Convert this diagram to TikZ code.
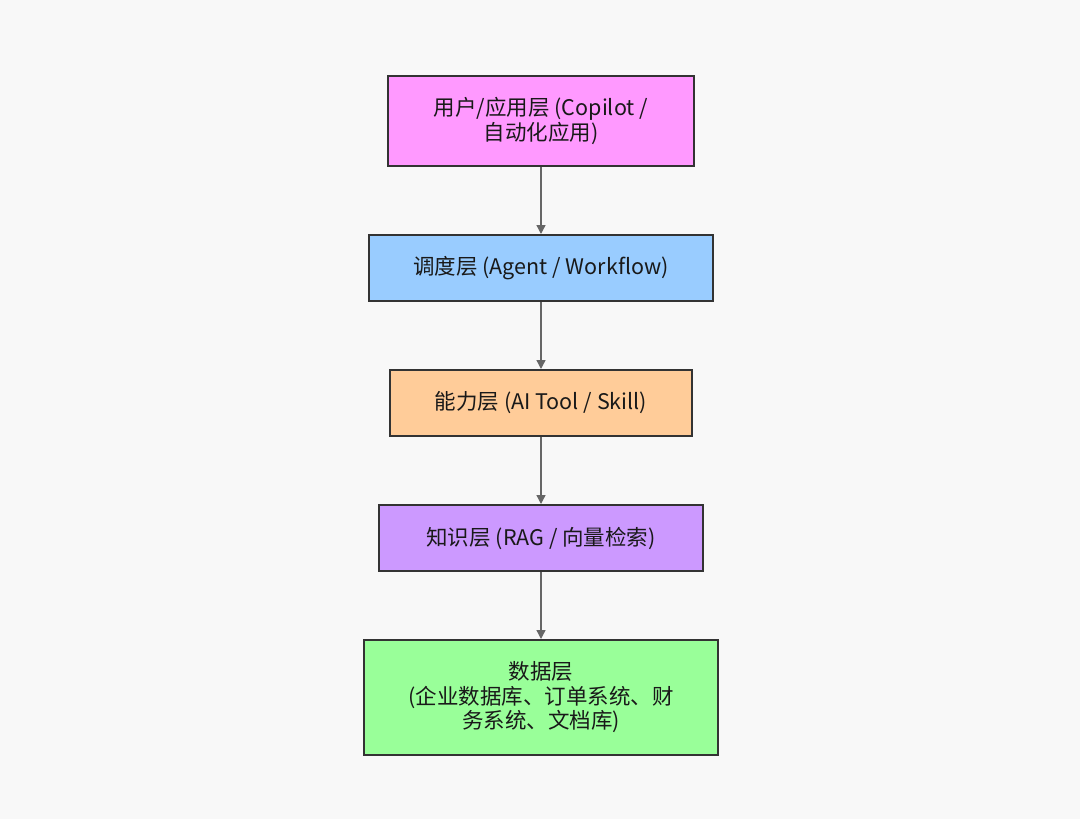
\documentclass[tikz,border=0pt]{standalone}
\usepackage{fontspec}
\setmainfont{Noto Sans CJK SC}
\usetikzlibrary{arrows.meta}
\definecolor{bg}{HTML}{F8F8F8}
\definecolor{edge}{HTML}{333333}
\definecolor{arr}{HTML}{666666}
\definecolor{cA}{HTML}{FF99FF}
\definecolor{cB}{HTML}{99CCFF}
\definecolor{cC}{HTML}{FFCC99}
\definecolor{cD}{HTML}{CC99FF}
\definecolor{cE}{HTML}{99FF99}
\tikzset{
  layer/.style={draw=edge, line width=2pt, inner sep=0pt, align=center,
    font=\fontsize{21.5}{24.5}\selectfont, text=black!90},
  flow/.style={draw=arr, line width=1.4pt, -{Triangle[length=9pt,width=9pt]}}
}
\begin{document}
\begin{tikzpicture}[x=1pt,y=-1pt]
\fill[bg] (0,0) rectangle (1080,819);
\useasboundingbox (0,0) rectangle (1080,819);
\node[layer, fill=cA, minimum width=306pt, minimum height=90pt] (a) at (541,121) {用户/应用层 (Copilot /\\自动化应用)};
\node[layer, fill=cB, minimum width=344pt, minimum height=66pt] (b) at (541,268) {调度层 (Agent / Workflow)};
\node[layer, fill=cC, minimum width=302pt, minimum height=66pt] (c) at (541,403) {能力层 (AI Tool / Skill)};
\node[layer, fill=cD, minimum width=324pt, minimum height=66pt] (d) at (541,538) {知识层 (RAG / 向量检索)};
\node[layer, fill=cE, minimum width=354pt, minimum height=115pt] (e) at (541,697.5) {数据层\\(企业数据库、订单系统、财\\务系统、文档库)};
\draw[flow] (a) -- (b);
\draw[flow] (b) -- (c);
\draw[flow] (c) -- (d);
\draw[flow] (d) -- (e);
\end{tikzpicture}
\end{document}
